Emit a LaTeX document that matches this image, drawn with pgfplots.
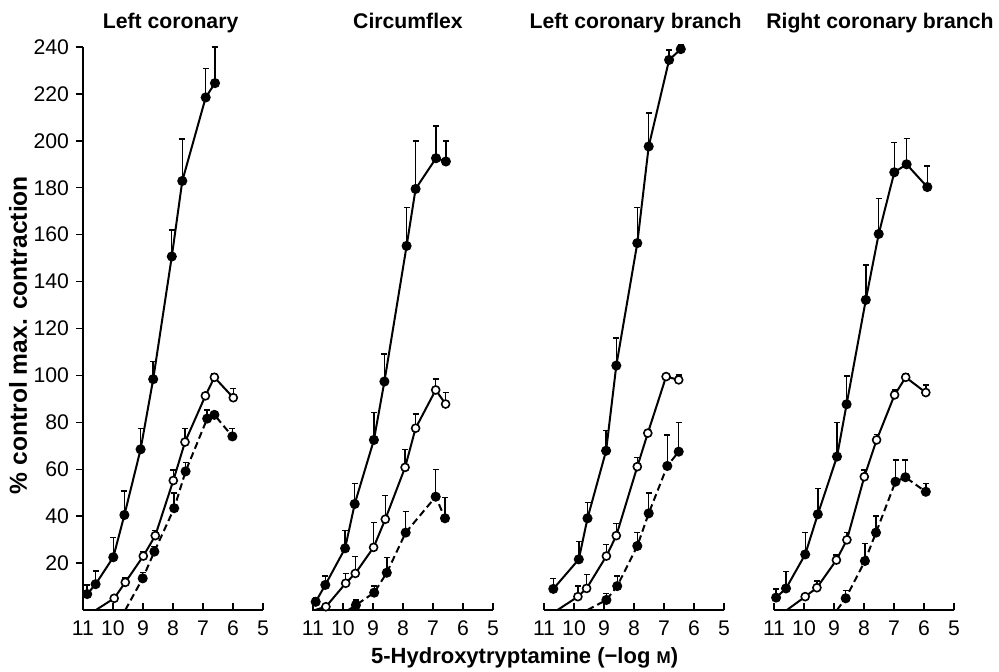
\documentclass[border=0pt]{standalone}
\usepackage{fontspec}
\setmainfont{Liberation Sans}
\usepackage{pgfplots}
\pgfplotsset{compat=1.18}

\pgfplotsset{
  panel/.style={
    scale only axis, width=90pt, height=281.5pt,
    xmin=5, xmax=11, ymin=0, ymax=240, x dir=reverse,
    anchor=south west, clip=false,
    axis x line*=bottom,
    xtick={5,6,7,8,9,10,11},
    xtick align=inside,
    major tick length=3.5pt,
    tick style={black, line width=0.7pt},
    axis line style={black, line width=0.9pt},
    /pgf/number format/assume math mode=true,
    tick label style={font=\fontsize{10.6}{12}\selectfont},
    xticklabel style={yshift=-2pt},
    title style={font=\bfseries\fontsize{10.6}{12}\selectfont, at={(axis description cs:0.5,1)}, anchor=base, yshift=3.3pt},
    error bars/y dir=plus, error bars/y explicit,
    error bars/error bar style={black, line width=0.7pt, solid},
    error bars/error mark options={rotate=90, mark size=1.5pt, line width=0.7pt, solid},
  },
  noy/.style={axis y line=none, ytick=\empty},
  ctrl/.style={black, line width=1pt, mark=*, mark size=2pt, mark options={solid, fill=black, draw=black}},
  open/.style={black, line width=1pt, mark=*, mark size=2pt, mark options={solid, fill=white, draw=black, line width=0.8pt}},
  dashd/.style={black, line width=1pt, dash pattern=on 3.5pt off 2pt, mark=*, mark size=2pt, mark options={solid, fill=black, draw=black}},
  skipfirst/.style={mark phase=2, mark repeat=1},
}

\begin{document}
\begin{tikzpicture}
\path[use as bounding box] (0,0) rectangle (499.5pt,335.5pt);

% ---------------- Left coronary ----------------
\begin{axis}[panel, at={(41.5pt,30.5pt)}, title={Left coronary},
  title style={xshift=-1.2pt},
  axis y line*=left, ytick={20,40,...,240}, ytick align=outside]
\addplot[ctrl] coordinates {
 (10.86,6.8) +- (0,3.9) (10.58,11) +- (0,5.6) (9.99,22.5) +- (0,8.5)
 (9.62,40.5) +- (0,10.2) (9.08,68.5) +- (0,8.8) (8.66,98.4) +- (0,7.6)
 (8.04,150.7) +- (0,11.3) (7.69,182.9) +- (0,17.8) (6.91,218.5) +- (0,12.3)
 (6.6,224.6) +- (0,15.4)};
\addplot[open, skipfirst] coordinates {
 (10.57,0) +- (0,0) (9.96,5.0) +- (0,0) (9.59,11.8) +- (0,1.8) (8.99,23) +- (0,1.9)
 (8.59,31.7) +- (0,2.3) (7.99,55.2) +- (0,4.5) (7.6,71.6) +- (0,5.7)
 (6.92,91.3) +- (0,0) (6.62,99.2) +- (0,1.4) (5.99,90.5) +- (0,4)};
\addplot[dashd, skipfirst] coordinates {
 (9.59,0) +- (0,0) (9.01,13.5) +- (0,2.5) (8.62,24.9) +- (0,2.1) (7.96,43.4) +- (0,6.4)
 (7.58,59.1) +- (0,3.9) (6.86,81.6) +- (0,3.7) (6.62,83.2) +- (0,1.4) (6.02,74) +- (0,3.5)};
\end{axis}

% ---------------- Circumflex ----------------
\begin{axis}[panel, noy, at={(156.5pt,30.5pt)}, title={Circumflex},
  title style={xshift=2.5pt}]
\addplot[ctrl] coordinates {
 (10.91,3.5) +- (0,1.9) (10.59,10.7) +- (0,3.8) (9.93,26.3) +- (0,7.5)
 (9.61,45.2) +- (0,8.8) (8.97,72.5) +- (0,11.8) (8.62,97.4) +- (0,11.8)
 (7.88,155.2) +- (0,16.5) (7.58,179.5) +- (0,20.5) (6.9,192.6) +- (0,13.8)
 (6.57,191.2) +- (0,8.8)};
\addplot[open, skipfirst] coordinates {
 (10.93,0) +- (0,0) (10.57,1.4) +- (0,0) (9.91,11.4) +- (0,4.2) (9.59,15.6) +- (0,7.1)
 (8.98,26.7) +- (0,10.7) (8.59,38.7) +- (0,10) (7.93,60.8) +- (0,7.7)
 (7.58,77.5) +- (0,6) (6.91,93.8) +- (0,4.6) (6.58,87.8) +- (0,4.9)};
\addplot[dashd, skipfirst] coordinates {
 (9.82,0) +- (0,0) (9.57,2.1) +- (0,2.2) (8.96,7.4) +- (0,2.8) (8.54,15.9) +- (0,6.4)
 (7.91,33) +- (0,8.9) (6.91,48.3) +- (0,11.7) (6.6,39.1) +- (0,8.9)};
\end{axis}

% ---------------- Left coronary branch ----------------
\begin{axis}[panel, noy, at={(272pt,30.5pt)}, title={Left coronary branch},
  title style={xshift=0.8pt}]
\addplot[ctrl] coordinates {
 (10.69,9.0) +- (0,4.5) (9.84,21.6) +- (0,7.5) (9.55,39.1) +- (0,6.7)
 (8.93,67.9) +- (0,8.6) (8.59,104.2) +- (0,11.7) (7.89,156.4) +- (0,15.3)
 (7.51,197.6) +- (0,14.2) (6.83,234.5) +- (0,4.3) (6.44,239.1) +- (0,1.8)};
\addplot[open, skipfirst] coordinates {
 (10.55,0) +- (0,0) (9.87,5.7) +- (0,4.5) (9.58,9.2) +- (0,6) (8.92,23) +- (0,5)
 (8.59,31.7) +- (0,5.3) (7.89,61.1) +- (0,4) (7.54,75.4) +- (0,1.6)
 (6.93,99.5) +- (0,1.4) (6.51,98.1) +- (0,2.1)};
\addplot[dashd, skipfirst] coordinates {
 (9.55,0) +- (0,0) (8.92,4.3) +- (0,2.8) (8.56,10.2) +- (0,4.3) (7.89,27.3) +- (0,5.7)
 (7.51,41.2) +- (0,8.6) (6.89,61.4) +- (0,13.2) (6.51,67.5) +- (0,12.4)};
\end{axis}

% ---------------- Right coronary branch ----------------
\begin{axis}[panel, noy, at={(387pt,30.5pt)}, title={Right coronary branch},
  title style={xshift=8pt}]
\addplot[ctrl] coordinates {
 (10.93,5.3) +- (0,3.7) (10.6,9.2) +- (0,7.1) (9.96,23.7) +- (0,9.3)
 (9.54,40.8) +- (0,11.1) (8.9,65.4) +- (0,14.6) (8.58,87.7) +- (0,12.1)
 (7.94,132.2) +- (0,14.9) (7.51,160.3) +- (0,15) (6.99,186.6) +- (0,12.7)
 (6.58,190) +- (0,11.1) (5.89,180.3) +- (0,9)};
\addplot[open, skipfirst] coordinates {
 (10.57,0) +- (0,0) (9.96,5.7) +- (0,1.4) (9.57,9.5) +- (0,2.9) (8.92,21.3) +- (0,2.2)
 (8.57,29.9) +- (0,3.1) (7.99,56.8) +- (0,2.9) (7.58,72.5) +- (0,2.4)
 (6.98,91.7) +- (0,2.1) (6.61,99.2) +- (0,1.4) (5.94,92.7) +- (0,3.3)};
\addplot[dashd, skipfirst] coordinates {
 (8.9,0) +- (0,0) (8.61,5) +- (0,3.2) (7.97,20.9) +- (0,7.5) (7.6,33) +- (0,7.1)
 (6.95,54.7) +- (0,9.3) (6.62,56.6) +- (0,7.4) (5.94,50.4) +- (0,3.6)};
\end{axis}

\node[rotate=90, font=\bfseries\fontsize{12.3}{14}\selectfont] at (9pt,168pt) {\% control max. contraction};
\node[anchor=base, font=\bfseries\fontsize{11}{13}\selectfont] at (262.3pt,3.6pt)
  {5-Hydroxytryptamine (−log {\fontsize{8.5}{10}\selectfont M})};
\end{tikzpicture}
\end{document}
